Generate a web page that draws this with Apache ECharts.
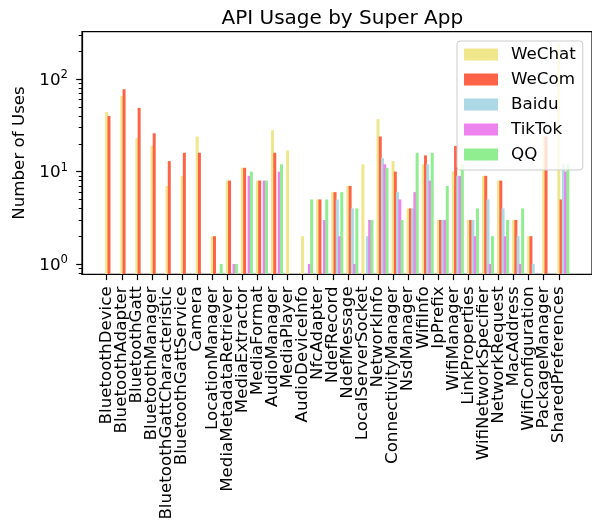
<!DOCTYPE html>
<html>
<head>
<meta charset="utf-8">
<script src="https://cdn.jsdelivr.net/npm/echarts@6/dist/echarts.min.js"></script>
<style>
  html, body { margin: 0; padding: 0; background: #fff; }
  #chart { width: 592px; height: 529px; }
</style>
</head>
<body>
<div id="chart"></div>
<script>
// API 名称
var apis = ['BluetoothDevice', 'BluetoothAdapter', 'BluetoothGatt', 'BluetoothManager',
    'BluetoothGattCharacteristic', 'BluetoothGattService', 'Camera', 'LocationManager',
    'MediaMetadataRetriever', 'MediaExtractor', 'MediaFormat', 'AudioManager', 'MediaPlayer',
    'AudioDeviceInfo', 'NfcAdapter', 'NdefRecord', 'NdefMessage', 'LocalServerSocket',
    'NetworkInfo', 'ConnectivityManager', 'NsdManager', 'WifiInfo', 'IpPrefix', 'WifiManager',
    'LinkProperties', 'WifiNetworkSpecifier', 'NetworkRequest', 'MacAddress',
    'WifiConfiguration', 'PackageManager', 'SharedPreferences'];

// 各 app 的调用次数 (0 = 没有柱子)
var wechat = [44, 66, 23, 19, 7, 9, 24, 2, 8, 11, 8, 28, 17, 2, 5, 6, 7, 12, 37, 13, 4, 12, 3, 10, 3, 9, 8, 3, 2, 24, 245];
var wecom  = [40, 78, 49, 26, 13, 16, 16, 2, 8, 11, 8, 16, 0, 0, 5, 6, 7, 0, 24, 10, 4, 15, 3, 19, 3, 9, 8, 3, 2, 24, 5];
var baidu  = [0, 0, 0, 0, 0, 0, 0, 0, 0, 0, 0, 0, 0, 0, 0, 5, 4, 2, 14, 6, 4, 12, 3, 9, 3, 5, 4, 2, 1, 0, 12];
var tiktok = [0, 0, 0, 0, 0, 0, 0, 0, 1, 9, 8, 10, 0, 1, 3, 2, 1, 3, 12, 5, 6, 8, 3, 9, 2, 1, 2, 1, 0, 0, 10];
var qq     = [0, 0, 0, 0, 0, 0, 0, 1, 1, 10, 8, 12, 0, 5, 5, 6, 4, 3, 11, 3, 16, 16, 7, 12, 4, 2, 3, 4, 0, 0, 12];

var apps = ['WeChat', 'WeCom', 'Baidu', 'TikTok', 'QQ'];
var colors = ['#f0e68c', '#ff6347', '#add8e6', '#ee82ee', '#90ee90'];

// 刻度
var majorTicks = [1, 10, 100];
var minorTicks = [0.8, 0.9, 2, 3, 4, 5, 6, 7, 8, 9, 20, 30, 40, 50, 60, 70, 80, 90, 200, 300];
var yMin = 0.774, yMax = 327;

var chart = echarts.init(document.getElementById('chart'));

function noZero(arr) {
    return arr.map(function (v) { return v > 0 ? v : null; });
}

var allData = [wechat, wecom, baidu, tiktok, qq];
var series = [];
for (var i = 0; i < apps.length; i++) {
    series.push({
        name: apps[i],
        type: 'bar',
        xAxisIndex: 0,
        yAxisIndex: 0,
        data: noZero(allData[i]),
        barWidth: 3,
        barGap: '-25%',
        itemStyle: { color: colors[i] }
    });
}

var top0 = 31.7, h0 = 242.6, catW = 15.07;

var option = {
    animation: false,
    color: colors,
    textStyle: { fontFamily: 'DejaVu Sans', color: '#000' },
    title: {
        text: 'API Usage by Super App',
        left: 337.3,
        textAlign: 'center',
        top: 4,
        textStyle: { fontSize: 20, fontWeight: 'normal', color: '#000', fontFamily: 'DejaVu Sans' }
    },
    legend: {
        data: apps,
        orient: 'vertical',
        left: 457,
        top: 41,
        icon: 'rect',
        itemWidth: 34,
        itemHeight: 12,
        itemGap: 8,
        padding: [5, 7, 7, 7],
        backgroundColor: 'rgba(255,255,255,0.8)',
        borderColor: '#cccccc',
        borderWidth: 1,
        borderRadius: 3,
        textStyle: { fontSize: 16.7, color: '#000', lineHeight: 17, padding: [0, 0, 0, 8] }
    },
    grid: [
        // 柱子
        { left: 103.7, top: top0, width: catW * 31, height: h0 },
        // 边框
        { left: 82, top: top0, width: 510.6, height: h0, show: true, borderColor: '#000', borderWidth: 1.2 },
        // x 轴标签
        { left: 106.7 - catW / 2, top: top0, width: catW * 31, height: h0 }
    ],
    xAxis: [
        { gridIndex: 0, type: 'category', data: apis, show: false },
        {
            gridIndex: 1, type: 'value', min: 0, max: 1, z: 10,
            axisLine: { show: true, lineStyle: { color: '#000', width: 1.2 } },
            axisTick: { show: false }, axisLabel: { show: false }, splitLine: { show: false }
        },
        {
            gridIndex: 2, type: 'category', data: apis,
            axisLine: { show: false },
            axisTick: { show: true, alignWithLabel: true, length: 5.8, lineStyle: { color: '#000', width: 1.2 } },
            axisLabel: { interval: 0, rotate: 90, fontSize: 16.7, color: '#000', margin: 12 },
            splitLine: { show: false }
        }
    ],
    yAxis: [
        // 柱子从坐标轴底部开始
        { gridIndex: 0, type: 'log', min: yMin, max: yMax, startValue: yMin, show: false },
        {
            gridIndex: 1, type: 'log', min: yMin, max: yMax, position: 'left', z: 10,
            name: 'Number of Uses',
            nameLocation: 'middle',
            nameGap: 46,
            nameTextStyle: { fontSize: 16.7, color: '#000' },
            axisLine: { show: true, lineStyle: { color: '#000', width: 1.2 } },
            axisTick: { show: true, customValues: majorTicks, length: 5.8, lineStyle: { color: '#000', width: 1.2 } },
            axisLabel: {
                customValues: majorTicks,
                margin: 14,
                formatter: function (v) {
                    return '{b|10}{s|' + Math.round(Math.log10(v)) + '}';
                },
                rich: {
                    b: { fontSize: 16.7, color: '#000', verticalAlign: 'bottom' },
                    s: { fontSize: 11.7, color: '#000', verticalAlign: 'bottom', padding: [0, 0, 8, 0] }
                }
            },
            splitLine: { show: false }
        },
        {
            gridIndex: 1, type: 'log', min: yMin, max: yMax, position: 'left', z: 10,
            axisLine: { show: false },
            axisTick: { show: true, customValues: minorTicks, length: 3.3, lineStyle: { color: '#000', width: 1 } },
            axisLabel: { show: false },
            splitLine: { show: false }
        },
        { gridIndex: 2, type: 'value', show: false }
    ],
    series: series
};

chart.setOption(option);
</script>
</body>
</html>
